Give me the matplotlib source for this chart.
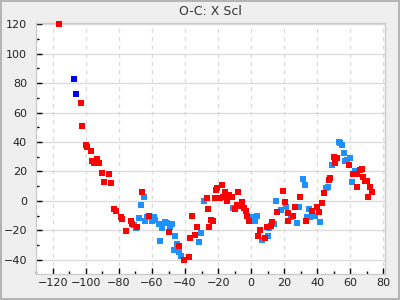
import matplotlib
matplotlib.use("Agg")
import matplotlib.pyplot as plt
from matplotlib.ticker import MultipleLocator

# O-C residuals
red_x = [-116.5, -103.1, -102.5, -100.1, -99.5, -97.0, -96.2, -95.0, -93.4, -92.0,
         -90.4, -86.2, -89.2, -85.0, -66.2, -83.1, -81.9, -78.9, -78.3, -75.9,
         -72.9, -72.3, -69.3, -62.0, -49.9, -43.4, -40.4, -37.8, -37.2, -36.0,
         -34.2, -32.7, -26.1, -25.5, -24.0, -23.3, -27.0, -22.1, -19.1, -20.7,
         -21.3, -17.9, -16.1, -17.0, -14.6, -13.4, -11.6, -8.2, -10.0, -8.8,
         -7.6, -5.8, -4.6, -3.4, -2.4, -1.0, 3.9, 5.1, 8.1, 9.3,
         12.3, 12.9, 15.9, 19.0, 20.2, 22.6, 22.0, 25.6, 26.8, 29.8,
         32.9, 37.1, 40.1, 41.3, 43.1, 44.3, 47.4, 48.0, 50.4, 51.0,
         52.2, 59.5, 61.9, 64.3, 64.3, 66.1, 67.3, 67.9, 69.1, 70.3,
         72.1, 73.4, 70.9]
red_y = [120.0, 66.6, 50.6, 37.8, 36.4, 33.7, 26.9, 25.6, 28.3, 25.6,
         18.8, 18.1, 12.7, 12.0, 5.9, -5.6, -7.0, -11.1, -12.4, -20.5,
         -13.8, -15.8, -17.8, -10.4, -21.2, -30.7, -40.2, -38.2, -25.3, -10.4,
         -23.0, -17.8, -5.4, -17.8, -13.1, -13.8, 1.8, 1.8, 1.8, 8.6,
         7.6, 10.6, 5.9, 2.9, -0.2, 3.9, 2.5, 5.9, -5.6, -2.9,
         -3.6, -0.9, -4.9, -7.0, -10.4, -13.8, -23.9, -19.9, -25.3, -17.8,
         -17.2, -14.4, -7.7, 6.6, -0.9, -8.3, -13.8, -10.4, -4.3, 2.5,
         -13.8, -7.0, -4.3, -7.7, -1.6, 5.2, 14.0, 15.4, 29.6, 25.6,
         28.9, 24.2, 18.1, 18.1, 9.3, 20.8, 21.5, 16.1, 13.4, 13.4,
         9.3, 5.9, 2.5]

light_x = [-65.0, -66.8, -71.1, -69.9, -68.0, -64.4, -63.2, -60.2, -59.0, -58.4,
           -56.0, -55.3, -54.1, -52.3, -51.1, -49.3, -48.1, -46.3, -45.1, -46.9,
           -43.9, -42.2, -28.8, -30.1, -31.8, -11.2, 0.2, 2.1, 3.3, 6.3,
           9.9, 11.1, 14.1, 15.3, 17.8, 20.8, 24.4, 28.0, 29.2, 31.1,
           32.3, 34.1, 35.3, 35.9, 38.3, 38.9, 41.9, 45.0, 46.4, 49.2,
           53.4, 54.0, 55.2, 56.4, 57.0, 58.2, 60.1, 61.3, 63.1]
light_y = [2.5, -2.9, -16.5, -18.5, -11.7, -13.8, -11.1, -13.8, -11.1, -13.1,
           -15.8, -27.3, -18.5, -14.4, -15.1, -17.8, -15.8, -23.9, -29.4, -33.4,
           -34.8, -37.5, 0.0, -21.9, -28.0, -4.9, -11.1, -13.8, -10.4, -26.6,
           -23.9, -18.5, -15.8, -0.2, -6.3, -4.3, -11.1, -15.1, -4.3, 14.7,
           10.6, -11.1, -5.6, -11.1, -10.4, -10.4, -14.4, 8.6, 9.3, 24.2,
           39.8, 39.1, 37.8, 32.3, 26.9, 27.6, 28.9, 12.7, 20.1]

blue_x = [-107.3, -106.1]
blue_y = [82.9, 72.3]

fig = plt.figure(figsize=(4, 3), dpi=100, facecolor="#efefef",
                 edgecolor="#b4b4b4", linewidth=1.5)
ax = fig.add_axes([0.09, 0.087, 0.8725, 0.836])
ax.set_facecolor("white")

ms = 4.4
ax.plot(light_x, light_y, "s", color="#1e90ff", ms=ms, mew=0, zorder=3, clip_on=False)
ax.plot(red_x, red_y, "s", color="#ff0000", ms=ms, mew=0, zorder=4, clip_on=False)
ax.plot(blue_x, blue_y, "s", color="#0000ff", ms=ms, mew=0, zorder=5, clip_on=False)

ax.set_xlim(-130.2, 81.0)
ax.set_ylim(-49.5, 120.7)
ax.xaxis.set_major_locator(MultipleLocator(20))
ax.xaxis.set_minor_locator(MultipleLocator(10))
ax.yaxis.set_major_locator(MultipleLocator(20))
ax.yaxis.set_minor_locator(MultipleLocator(10))

# horizontal grid solid, vertical grid dashed
ax.grid(True, axis="y", which="major", color="#dcdcdc", lw=1.0, ls="-", zorder=0)
ax.grid(True, axis="x", which="major", color="#dcdcdc", lw=1.0, ls=(0, (3, 3)), zorder=0)
ax.set_axisbelow(True)

ax.tick_params(which="both", direction="in", color="black", width=1.0,
               labelsize=8, labelcolor="#222222")
ax.tick_params(which="major", length=4)
ax.tick_params(which="minor", length=2)
ax.tick_params(axis="y", pad=6.5)
ax.tick_params(axis="x", pad=3)
ax.tick_params(top=False, right=False, which="both")

for s in ax.spines.values():
    s.set_color("#cccccc")
    s.set_linewidth(1.0)

ax.set_title("O-C: X Scl", fontsize=9, color="#333333", pad=6)

fig.savefig("out.png", dpi=100, facecolor=fig.get_facecolor(), edgecolor=fig.get_edgecolor())
